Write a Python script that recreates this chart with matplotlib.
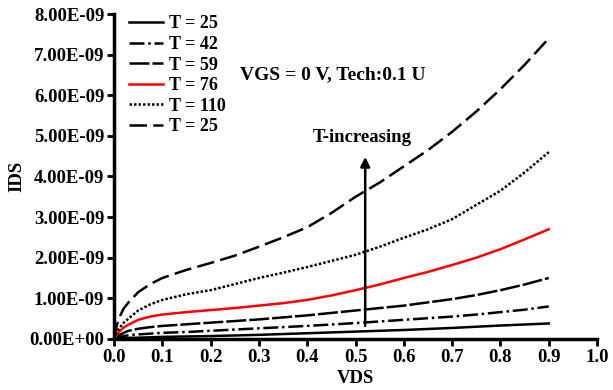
# IDS vs VDS for several temperatures
from matplotlib import pyplot as plt
from matplotlib.ticker import FuncFormatter

plt.rcParams['font.family'] = ['Liberation Serif', 'DejaVu Serif']
plt.rcParams['font.weight'] = 'bold'

vds = [0.0, 0.005, 0.01, 0.02, 0.03, 0.05, 0.075, 0.1, 0.15, 0.2, 0.25, 0.3,
       0.35, 0.4, 0.45, 0.5, 0.55, 0.6, 0.65, 0.7, 0.75, 0.8, 0.85, 0.9]

# currents in units of 1e-9 A
t25 = [0, 0.005, 0.01, 0.02, 0.025, 0.03, 0.04, 0.05, 0.06, 0.07, 0.085, 0.10,
       0.12, 0.14, 0.16, 0.18, 0.20, 0.22, 0.245, 0.27, 0.30, 0.33, 0.355, 0.38]
t42 = [0, 0.02, 0.04, 0.07, 0.09, 0.11, 0.13, 0.15, 0.17, 0.20, 0.23, 0.26,
       0.29, 0.32, 0.355, 0.39, 0.43, 0.47, 0.51, 0.55, 0.60, 0.66, 0.72, 0.80]
t59 = [0, 0.05, 0.09, 0.15, 0.20, 0.25, 0.29, 0.32, 0.36, 0.40, 0.44, 0.48,
       0.53, 0.58, 0.64, 0.70, 0.76, 0.82, 0.90, 0.98, 1.08, 1.20, 1.34, 1.50]
t76 = [0, 0.10, 0.17, 0.28, 0.35, 0.47, 0.55, 0.60, 0.66, 0.71, 0.76, 0.82,
       0.88, 0.96, 1.07, 1.20, 1.34, 1.50, 1.65, 1.82, 2.00, 2.21, 2.45, 2.70]
t110 = [0, 0.15, 0.25, 0.40, 0.50, 0.70, 0.85, 0.96, 1.10, 1.20, 1.35, 1.50,
        1.63, 1.77, 1.92, 2.07, 2.27, 2.49, 2.70, 2.95, 3.30, 3.65, 4.10, 4.60]
t25b = [0, 0.30, 0.50, 0.75, 0.90, 1.15, 1.35, 1.50, 1.70, 1.87, 2.05, 2.27,
        2.50, 2.75, 3.10, 3.50, 3.85, 4.25, 4.65, 5.10, 5.60, 6.15, 6.75, 7.40]

labels = ['T = 25', 'T = 42', 'T = 59', 'T = 76', 'T = 110', 'T = 25']
series = [t25, t42, t59, t76, t110, t25b]
colors = ['black', 'black', 'black', 'red', 'black', 'black']
styles = ['-', (0, (6, 1.5, 1, 1.5)), (0, (8, 1.2)), '-', (0, (1, 0.8)), (0, (7, 2.5))]

fig = plt.figure(figsize=(6.13, 3.9), dpi=100)
ax = fig.add_axes([0.186, 0.131, 0.788, 0.833])

for ys, lab, c, ls in zip(series, labels, colors, styles):
    ax.plot(vds, [v * 1e-9 for v in ys], color=c, linestyle=ls, linewidth=1.8, label=lab)

ax.set_xlim(0, 1.0)
ax.set_ylim(0, 8e-9)
ax.set_xticks([i / 10 for i in range(11)])
ax.set_yticks([i * 1e-9 for i in range(9)])
ax.xaxis.set_major_formatter(FuncFormatter(lambda v, p: f'{v:.1f}'))
ax.yaxis.set_major_formatter(FuncFormatter(lambda v, p: f'{v:.2E}'))

ax.spines['top'].set_visible(False)
ax.spines['right'].set_visible(False)
ax.spines['left'].set_linewidth(2.5)
ax.spines['bottom'].set_linewidth(2.5)
ax.tick_params(direction='out', length=5, width=2, labelsize=13.5, pad=2)

ax.set_xlabel('VDS', fontsize=13.5, fontweight='bold', labelpad=3)
ax.set_ylabel('IDS', fontsize=13.5, fontweight='bold', labelpad=3)

ax.text(0.26, 6.5e-9, 'VGS = 0 V, Tech:0.1 U', fontsize=14, va='center')
ax.annotate('', xy=(0.52, 4.55e-9), xytext=(0.52, 0.25e-9),
            arrowprops=dict(arrowstyle='-|>', color='black', lw=1.8, mutation_scale=14))
ax.text(0.513, 4.97e-9, 'T-increasing', fontsize=13.5, ha='center', va='center')

ax.legend(loc='upper left', bbox_to_anchor=(0.005, 1.035), frameon=False, fontsize=13,
          handlelength=1.9, handletextpad=0.3, labelspacing=0.2, borderaxespad=0.3)

plt.savefig('out.png', dpi=100)
